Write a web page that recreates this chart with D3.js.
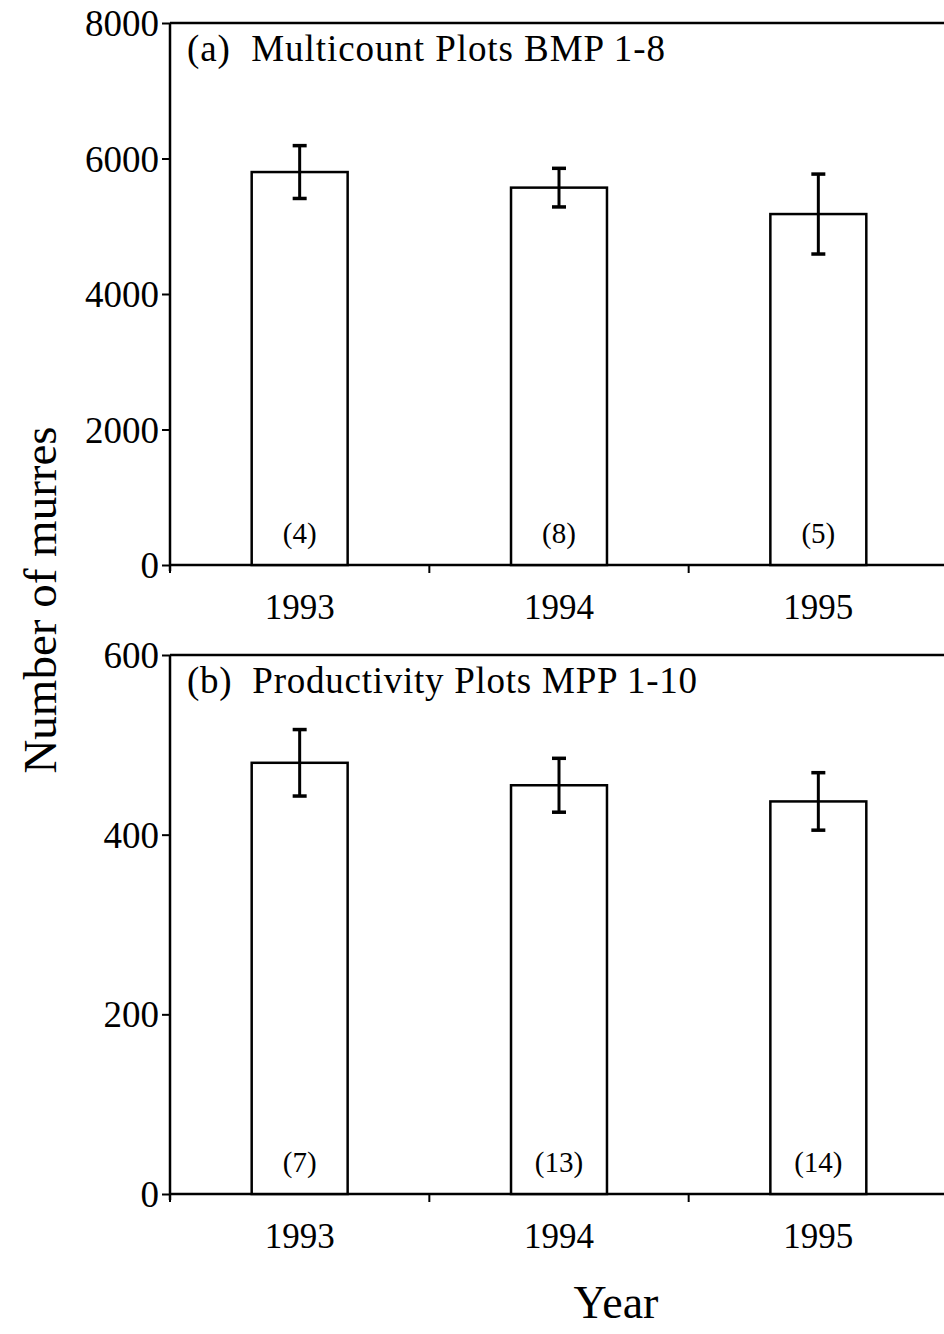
<!DOCTYPE html>
<html>
<head>
<meta charset="utf-8">
<script src="https://cdn.jsdelivr.net/npm/d3@7"></script>
<style>
  html, body { margin: 0; padding: 0; background: #fff; }
  svg { display: block; }
  text { font-family: "Liberation Serif", "Times New Roman", serif; fill: #000; }
</style>
</head>
<body>
<div id="chart"></div>
<script>
// Data
const years = ['1993', '1994', '1995'];

// (a) Multicount plots
const multicountMeans = [5800, 5570, 5180];
const multicountErrors = [390, 285, 590];
const multicountN = [4, 8, 5];

// (b) Productivity plots
const productivityMeans = [480, 455, 437];
const productivityErrors = [37, 30, 32];
const productivityN = [7, 13, 14];

const panels = [
    { title: '(a)  Multicount Plots BMP 1-8', titleLen: 478, max: 8000, ticks: [0, 2000, 4000, 6000, 8000],
      means: multicountMeans, errors: multicountErrors, n: multicountN, top: 23, bottom: 565 },
    { title: '(b)  Productivity Plots MPP 1-10', titleLen: 510, max: 600, ticks: [0, 200, 400, 600],
      means: productivityMeans, errors: productivityErrors, n: productivityN, top: 655, bottom: 1194 }
];

const W = 944, H = 1334;
const left = 170, right = 948;

const svg = d3.select('#chart').append('svg').attr('width', W).attr('height', H);

const x = d3.scaleBand().domain(years).range([left, right]).paddingInner(0).paddingOuter(0);
const barW = x.bandwidth() * 0.37;

panels.forEach(p => {
    const y = d3.scaleLinear().domain([0, p.max]).range([p.bottom, p.top]);
    const g = svg.append('g');

    // frame top line
    g.append('line')
        .attr('x1', left).attr('x2', W + 10)
        .attr('y1', p.top).attr('y2', p.top)
        .attr('stroke', '#000').attr('stroke-width', 2.5);

    // y axis
    const yAxis = g.append('g')
        .attr('transform', `translate(${left},0)`)
        .call(d3.axisLeft(y).tickValues(p.ticks).tickSize(8).tickPadding(3).tickFormat(d3.format('d')));
    yAxis.select('.domain').attr('stroke-width', 2.5).attr('d', `M0,${p.top}V${p.bottom + 6}`);
    yAxis.selectAll('.tick line').attr('stroke-width', 2);
    yAxis.selectAll('.tick text').attr('font-size', 37).attr('dy', '0.34em')
        .style('font-family', '"Liberation Serif", serif');

    // x axis
    const xAxis = g.append('g').attr('transform', `translate(0,${p.bottom})`);
    xAxis.append('line')
        .attr('x1', left).attr('x2', W + 10)
        .attr('stroke', '#000').attr('stroke-width', 2.5);
    const bounds = [left].concat(years.slice(1).map(d => x(d)));
    xAxis.selectAll('.xtick').data(bounds).join('line')
        .attr('class', 'xtick')
        .attr('x1', d => d).attr('x2', d => d)
        .attr('y1', 0).attr('y2', 8)
        .attr('stroke', '#000').attr('stroke-width', 2);
    xAxis.selectAll('.xlabel').data(years).join('text')
        .attr('class', 'xlabel')
        .attr('x', d => x(d) + x.bandwidth() / 2)
        .attr('y', 54)
        .attr('text-anchor', 'middle')
        .attr('font-size', 35)
        .text(d => d);

    // bars
    const cx = i => x(years[i]) + x.bandwidth() / 2;
    g.selectAll('.bar').data(p.means).join('rect')
        .attr('class', 'bar')
        .attr('x', (d, i) => cx(i) - barW / 2)
        .attr('y', d => y(d))
        .attr('width', barW)
        .attr('height', d => p.bottom - y(d))
        .attr('fill', '#fff')
        .attr('stroke', '#000').attr('stroke-width', 2.5);

    // error bars
    const eb = g.selectAll('.err').data(p.means).join('g').attr('class', 'err');
    eb.append('line')
        .attr('x1', (d, i) => cx(i)).attr('x2', (d, i) => cx(i))
        .attr('y1', (d, i) => y(d + p.errors[i])).attr('y2', (d, i) => y(d - p.errors[i]))
        .attr('stroke', '#000').attr('stroke-width', 3);
    [1, -1].forEach(s => {
        eb.append('line')
            .attr('x1', (d, i) => cx(i) - 7).attr('x2', (d, i) => cx(i) + 7)
            .attr('y1', (d, i) => y(d + s * p.errors[i])).attr('y2', (d, i) => y(d + s * p.errors[i]))
            .attr('stroke', '#000').attr('stroke-width', 3.5);
    });

    // sample sizes
    g.selectAll('.nlab').data(p.n).join('text')
        .attr('class', 'nlab')
        .attr('x', (d, i) => cx(i))
        .attr('y', p.bottom - 22)
        .attr('text-anchor', 'middle')
        .attr('font-size', 29)
        .text(d => `(${d})`);

    // panel title
    g.append('text')
        .attr('x', 187).attr('y', p.top + 38)
        .attr('font-size', 37)
        .attr('textLength', p.titleLen)
        .attr('lengthAdjust', 'spacing')
        .attr('xml:space', 'preserve')
        .style('white-space', 'pre')
        .text(p.title);
});

// axis titles
svg.append('text')
    .attr('transform', 'translate(56,600) rotate(-90)')
    .attr('text-anchor', 'middle')
    .attr('font-size', 47)
    .text('Number of murres');

svg.append('text')
    .attr('x', 616).attr('y', 1318)
    .attr('text-anchor', 'middle')
    .attr('font-size', 46)
    .text('Year');
</script>
</body>
</html>
